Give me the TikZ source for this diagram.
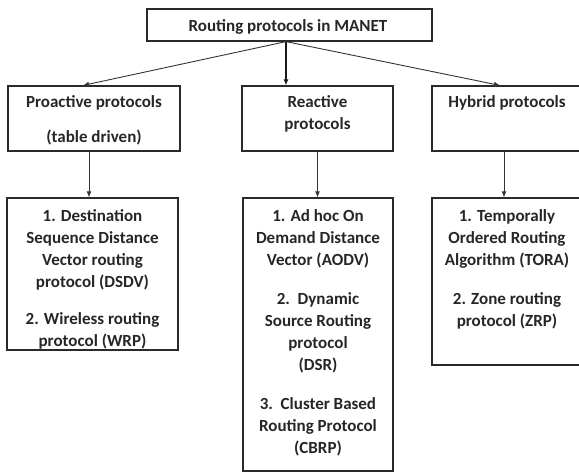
\documentclass[tikz,border=0pt]{standalone}
\usepackage{fontspec}
\setmainfont{Carlito}
\usetikzlibrary{arrows.meta,calc}
\definecolor{boxline}{HTML}{2A2A2A}
\definecolor{arrline}{HTML}{333333}
\tikzset{
  box/.style={draw=boxline, line width=1.2pt, rectangle, inner sep=0pt},
  txt/.style={font=\fontsize{17}{22}\selectfont\bfseries, text=black!85, align=center, inner sep=0pt, anchor=north},
  conn/.style={draw=arrline, line width=0.9pt, -{Latex[length=6pt,width=5pt]}},
  boldconn/.style={conn, draw=black!90, line width=1.3pt},
}
\begin{document}
\begin{tikzpicture}[x=1pt,y=-1pt]
\useasboundingbox (0,0) rectangle (579,472);
% boxes
\node[box, minimum width=285pt, minimum height=32pt] (top) at (289.5,25) {};
\node[box, minimum width=172pt, minimum height=65pt] (pro) at (94,118.5) {};
\node[box, minimum width=151pt, minimum height=65pt] (rea) at (317.5,118.5) {};
\node[box, minimum width=150pt, minimum height=65pt] (hyb) at (507,118.5) {};
\node[box, minimum width=171pt, minimum height=152pt] (lpro) at (92.5,274) {};
\node[box, minimum width=150pt, minimum height=273pt] (lrea) at (318,334.5) {};
\node[box, minimum width=150pt, minimum height=167pt] (lhyb) at (507,281.5) {};
% texts (north = first baseline - 15.4)
\node[txt] (ttop) at (288,15.8) {\strut Routing protocols in MANET};
\node[txt] (tpro) at (94,92.1) {\strut Proactive protocols\\[13pt](table driven)};
\node[txt] (trea) at (317.5,92.1) {\strut Reactive\\protocols};
\node[txt] (thyb) at (507,92.1) {\strut Hybrid protocols};
\node[txt] (tlpro) at (92.5,206.1) {\strut 1. Destination\\Sequence Distance\\Vector routing\\protocol (DSDV)\\[15pt]2. Wireless routing\\protocol (WRP)};
\node[txt] (tlrea) at (318,206.1) {\strut 1. Ad hoc On\\Demand Distance\\Vector (AODV)\\[17pt]2.\ \ Dynamic\\Source Routing\\protocol\\(DSR)\\[17pt]3.\ \ Cluster Based\\Routing Protocol\\(CBRP)};
\node[txt] (tlhyb) at (507,206.1) {\strut 1. Temporally\\Ordered Routing\\Algorithm (TORA)\\[17pt]2. Zone routing\\protocol (ZRP)};
% connectors
\draw[conn] ([xshift=-3.5pt]top.south) -- ([xshift=-11pt]pro.north);
\draw[boldconn] ([xshift=-3.5pt]top.south) -- ([xshift=-31.5pt]rea.north);
\draw[conn] ([xshift=-3.5pt]top.south) -- ([xshift=-7pt]hyb.north);
\draw[conn] ([xshift=-5pt]pro.south) -- ([xshift=-3.5pt]lpro.north);
\draw[conn] (rea.south) -- (rea.south |- lrea.north);
\draw[conn] ([xshift=-3pt]hyb.south) -- ([xshift=-3pt]lhyb.north);
\end{tikzpicture}
\end{document}
